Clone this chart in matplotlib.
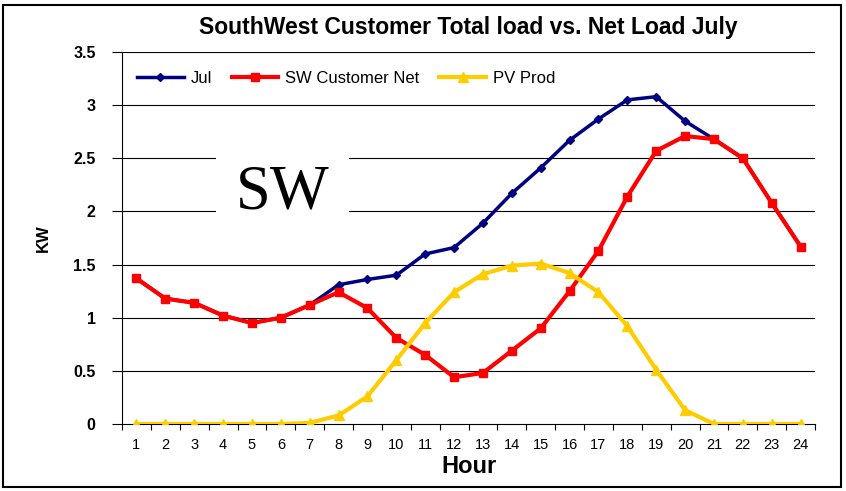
import matplotlib
matplotlib.use("Agg")
import matplotlib.pyplot as plt
from matplotlib.patches import Rectangle
import numpy as np

plt.rcParams['font.family'] = ['Liberation Sans', 'DejaVu Sans']

hours = list(range(1, 25))
jul = [1.37, 1.18, 1.14, 1.02, 0.95, 1.00, 1.12, 1.31, 1.36, 1.40, 1.60, 1.66,
       1.89, 2.17, 2.41, 2.67, 2.87, 3.05, 3.08, 2.85, 2.68, 2.50, 2.08, 1.67]
sw_net = [1.37, 1.18, 1.14, 1.02, 0.95, 1.00, 1.12, 1.24, 1.09, 0.81, 0.65, 0.44,
          0.48, 0.69, 0.90, 1.25, 1.63, 2.14, 2.57, 2.71, 2.68, 2.50, 2.08, 1.67]
pv_prod = [0, 0, 0, 0, 0, 0, 0.01, 0.08, 0.26, 0.60, 0.95, 1.24,
           1.41, 1.49, 1.51, 1.42, 1.24, 0.92, 0.51, 0.13, 0, 0, 0, 0]
yticks = [0, 0.5, 1, 1.5, 2, 2.5, 3, 3.5]
ytick_labels = ['0', '0.5', '1', '1.5', '2', '2.5', '3', '3.5']

fig = plt.figure(figsize=(8.46, 4.91), dpi=100)
ax = fig.add_axes([0.1442, 0.1365, 0.8192, 0.7575])

ax.plot(hours, jul, color='#000080', lw=2.5, marker='D', ms=4, label='Jul', zorder=3)
ax.plot(hours, sw_net, color='#FF0000', lw=3, marker='s', ms=6, label='SW Customer Net', zorder=4)
ax.plot(hours, pv_prod, color='#FFCC00', lw=3, marker='^', ms=7, label='PV Prod', zorder=5)

ax.set_xlim(0.5, 24.5)
ax.set_ylim(0, 3.5)
ax.set_yticks(yticks)
ax.set_yticklabels(ytick_labels, fontsize=11.5, fontweight='bold')
ax.set_xticks(hours)
ax.set_xticklabels([str(h) for h in hours], fontsize=10.5)
ax.set_xticks(np.arange(0.5, 25, 1), minor=True)
ax.tick_params(axis='x', which='major', length=0, pad=10)
ax.tick_params(axis='x', which='minor', length=4, direction='out', width=0.8)
ax.tick_params(axis='y', length=7, width=0.8, direction='out', pad=12)

for y in yticks[1:]:
    ax.axhline(y, color='black', lw=0.8, zorder=1)

for s in ['top', 'right']:
    ax.spines[s].set_visible(False)
ax.spines['left'].set_linewidth(0.8)
ax.spines['bottom'].set_linewidth(0.8)

ax.set_xlabel('Hour', fontsize=17, fontweight='bold', labelpad=2)
ax.set_ylabel('KW', fontsize=12, fontweight='bold', labelpad=16)

ax.text(6.05, 2.17, 'SW', family='Liberation Serif', fontsize=45, ha='center', va='center',
        bbox=dict(facecolor='white', edgecolor='none', pad=14), zorder=6)

ax.legend(loc='upper left', bbox_to_anchor=(0.0, 0.99), ncol=3, frameon=False,
          fontsize=12, handlelength=2.8, columnspacing=1.2, handletextpad=0.4)

fig.text(0.553, 0.943, 'SouthWest Customer Total load vs. Net Load July',
         fontsize=16.5, fontweight='bold', ha='center', va='center')

fig.patches.append(Rectangle((0.004, 0.008), 0.99, 0.982, transform=fig.transFigure,
                             fill=False, edgecolor='black', lw=1.5))

fig.savefig('out.png', dpi=100)
